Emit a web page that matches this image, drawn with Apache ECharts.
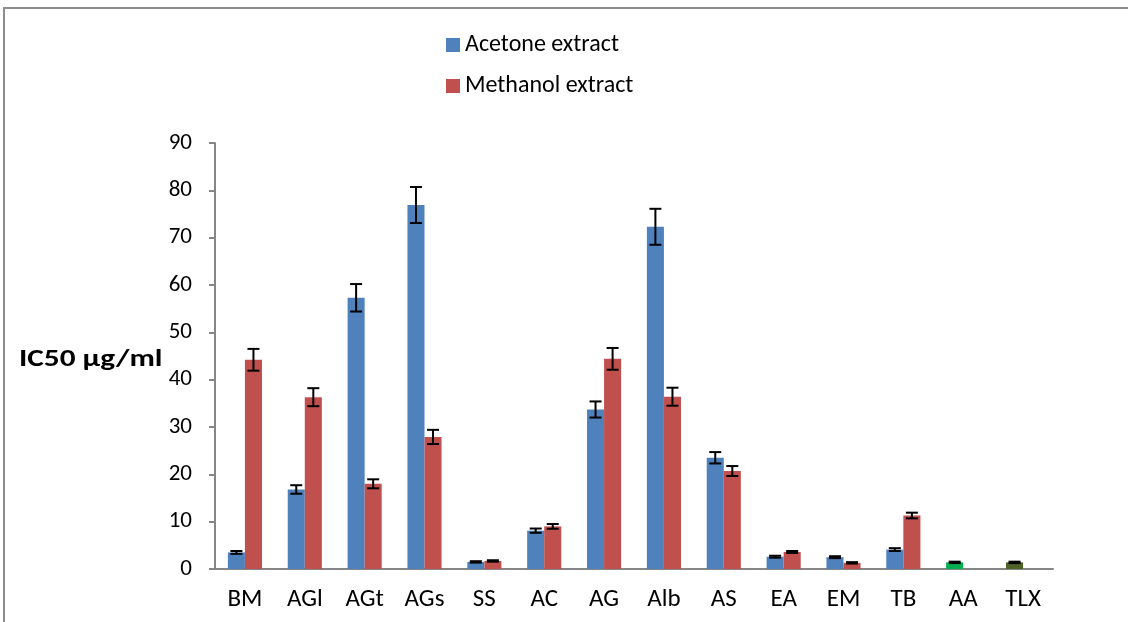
<!DOCTYPE html>
<html>
<head>
<meta charset="utf-8">
<script src="https://cdn.jsdelivr.net/npm/echarts@6/dist/echarts.min.js"></script>
<style>html,body{margin:0;padding:0;background:#fff}#c{width:1128px;height:622px}</style>
</head>
<body>
<div id="c"></div>
<script>
var categories = ['BM','AGl','AGt','AGs','SS','AC','AG','Alb','AS','EA','EM','TB','AA','TLX'];
var acetone    = [3.5, 16.8, 57.3, 76.9, 1.5, 8.1, 33.7, 72.3, 23.5, 2.6, 2.5, 4.1, 1.4, 1.4];
var acetoneErr = [0.3, 0.9, 2.9, 3.8, 0.15, 0.45, 1.7, 3.8, 1.2, 0.2, 0.2, 0.3, 0.15, 0.15];
var methanol    = [44.2, 36.3, 18.0, 27.9, 1.7, 9.0, 44.4, 36.4, 20.7, 3.6, 1.3, 11.3, null, null];
var methanolErr = [2.3, 1.9, 0.95, 1.5, 0.15, 0.5, 2.3, 1.9, 1.05, 0.2, 0.15, 0.6, null, null];
var yTicks = [0,10,20,30,40,50,60,70,80,90];
var specialColors = {'AA':'#00B050','TLX':'#4F6228'};
var yName = 'IC50 µg/ml';

var FONT = "Carlito, 'Liberation Sans', 'DejaVu Sans', sans-serif";
var GAP = 0.43;

var acetoneData = acetone.map(function(v,i){
  var c = specialColors[categories[i]];
  return c ? {value:v, itemStyle:{color:c}} : v;
});

function errData(vals, errs){
  var out = [];
  vals.forEach(function(v,i){
    if (v == null || errs[i] == null) return;
    out.push([i, v - errs[i], v + errs[i]]);
  });
  return out;
}
function errRender(sign){
  return function(params, api){
    var i = api.value(0);
    var lo = api.coord([i, api.value(1)]);
    var hi = api.coord([i, api.value(2)]);
    var catW = api.size([1,0])[0];
    var barW = catW*(1-GAP)/2;
    var x = lo[0] + sign*barW/2;
    var cap = 6;
    var st = {stroke:'#000', lineWidth:2};
    return {type:'group', children:[
      {type:'line', shape:{x1:x,y1:lo[1],x2:x,y2:hi[1]}, style:st},
      {type:'line', shape:{x1:x-cap,y1:lo[1],x2:x+cap,y2:lo[1]}, style:st},
      {type:'line', shape:{x1:x-cap,y1:hi[1],x2:x+cap,y2:hi[1]}, style:st}
    ]};
  };
}

var chart = echarts.init(document.getElementById('c'));
chart.setOption({
  animation:false,
  backgroundColor:'#fff',
  graphic:[
    {type:'polyline', shape:{points:[[4,622],[4,8],[1128,8]]}, style:{stroke:'#8c8c8c', lineWidth:2, fill:null}},
    {type:'text', x:19, y:360, scaleX:1.25, originX:0, originY:0,
     style:{text:yName, font:"bold 25px " + FONT, fill:'#000', verticalAlign:'middle', align:'left'}}
  ],
  legend:{
    orient:'vertical', left:441, top:28, itemWidth:14, itemHeight:14, itemGap:17,
    icon:'rect', data:['Acetone extract','Methanol extract'],
    textStyle:{fontFamily:FONT, fontSize:24, color:'#000'}
  },
  grid:{left:215, right:75, top:143, bottom:53},
  xAxis:{
    type:'category', data:categories,
    axisLine:{lineStyle:{color:'#868686', width:2}},
    axisTick:{length:6, lineStyle:{color:'#868686', width:2}},
    axisLabel:{fontFamily:FONT, fontSize:25, color:'#000', margin:18}
  },
  yAxis:{
    type:'value', min:0, max:90, interval:10,
    axisLine:{show:true, lineStyle:{color:'#868686', width:2}},
    axisTick:{show:true, length:6, lineStyle:{color:'#868686', width:2}},
    splitLine:{show:false},
    axisLabel:{fontFamily:FONT, fontSize:23, color:'#000', margin:23,
      formatter:function(v){ return yTicks.indexOf(v) >= 0 ? String(v) : ''; }}
  },
  series:[
    {name:'Acetone extract', type:'bar', data:acetoneData, barGap:'0%', barCategoryGap:(GAP*100)+'%',
     itemStyle:{color:'#4F81BD'}},
    {name:'Methanol extract', type:'bar', data:methanol, barGap:'0%', barCategoryGap:(GAP*100)+'%',
     itemStyle:{color:'#C0504D'}},
    {type:'custom', renderItem:errRender(-1), data:errData(acetone, acetoneErr), z:10, silent:true},
    {type:'custom', renderItem:errRender(1), data:errData(methanol, methanolErr), z:10, silent:true}
  ]
});
</script>
</body>
</html>
